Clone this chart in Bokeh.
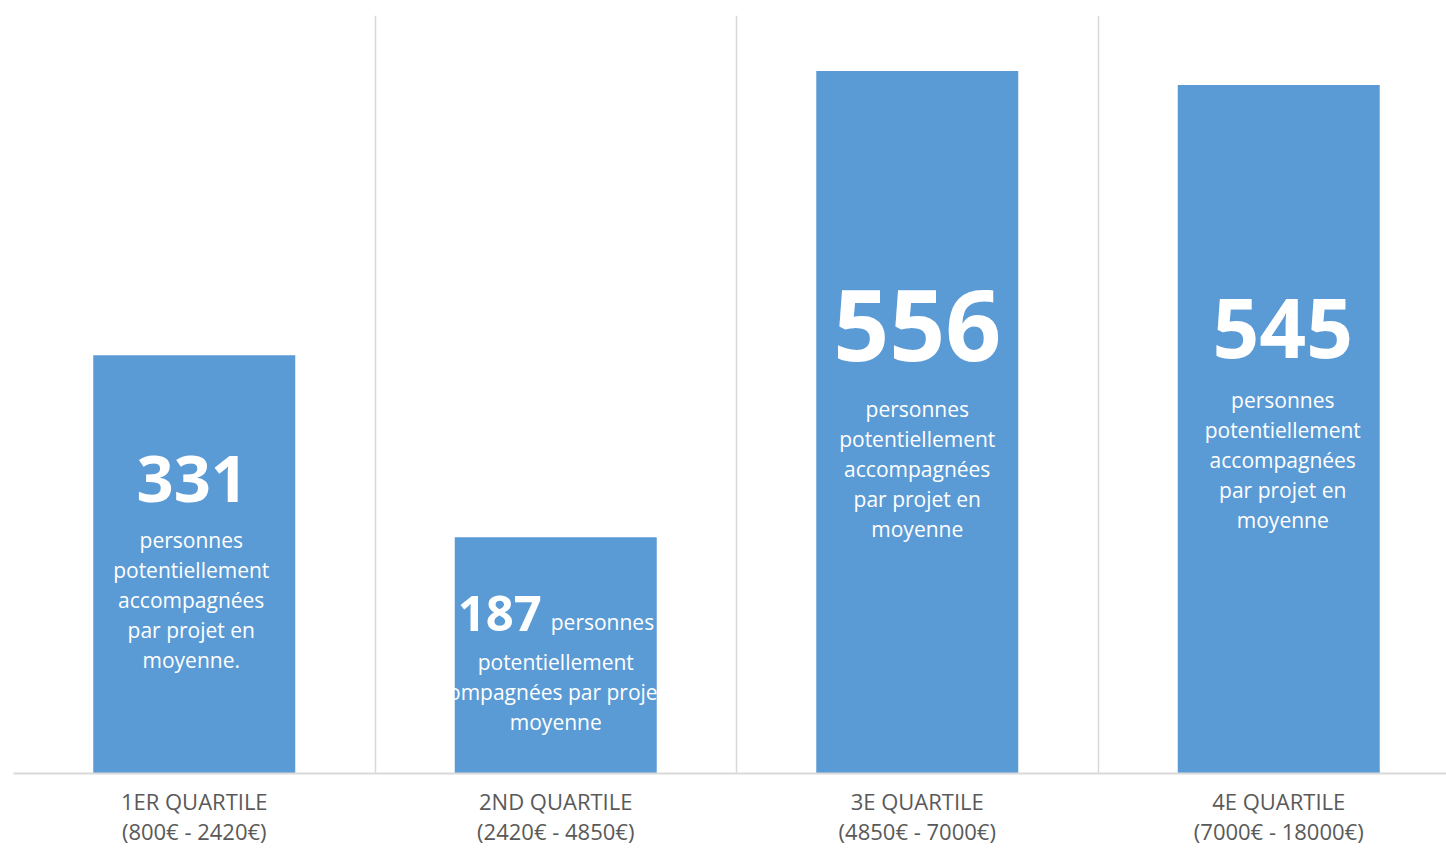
from bokeh.plotting import figure
from bokeh.models import Range1d, FixedTicker
from bokeh.core.properties import value
from bokeh.embed import file_html
from bokeh.resources import INLINE

# ---- data ----
categories_line1 = ["1ER QUARTILE", "2ND QUARTILE", "3E QUARTILE", "4E QUARTILE"]
categories_line2 = ["(800€ - 2420€)", "(2420€ - 4850€)", "(4850€ - 7000€)", "(7000€ - 18000€)"]
values = [331, 187, 556, 545]
number_labels = ["331", "187", "556", "545"]
desc_bar1 = ["personnes", "potentiellement", "accompagnées", "par projet en", "moyenne."]
desc_bar2_inline = "personnes"
desc_bar2 = ["potentiellement", "accompagnées par projet en", "moyenne"]
desc_bar3 = ["personnes", "potentiellement", "accompagnées", "par projet en", "moyenne"]
desc_bar4 = ["personnes", "potentiellement", "accompagnées", "par projet en", "moyenne"]

# ---- layout ----
W, H = 1446, 848
LEFT, TOP, BOTTOM = 13, 15, 75
frame_w = W - LEFT
frame_h = H - TOP - BOTTOM
cat_px = 361.5
Y_MAX = 600
scale = frame_h / Y_MAX  # px per unit

BAR_COLOR = "#5b9bd5"
GRID_COLOR = "#d9d9d9"
FONT = "Open Sans"

x_centers = [i + 0.5 for i in range(len(values))]

p = figure(width=W, height=H, output_backend="svg", toolbar_location=None,
           x_range=Range1d(0, frame_w / cat_px), y_range=Range1d(0, Y_MAX),
           min_border_left=LEFT, min_border_right=0, min_border_top=TOP,
           min_border_bottom=BOTTOM)
p.outline_line_color = None
p.background_fill_color = "white"
p.border_fill_color = "white"

p.vbar(x=x_centers, top=values, width=202 / cat_px, color=BAR_COLOR, line_color=None)

# grid: vertical category separators
p.xgrid.ticker = FixedTicker(ticks=[0, 1, 2, 3, 4])
p.xgrid.grid_line_color = GRID_COLOR
p.xgrid.grid_line_width = 1.5
p.ygrid.grid_line_color = None
p.yaxis.visible = False

# category axis
p.xaxis.ticker = FixedTicker(ticks=x_centers)
p.xaxis.major_label_overrides = {x: f"{a}\n{b}" for x, a, b in
                                 zip(x_centers, categories_line1, categories_line2)}
p.xaxis.axis_line_color = GRID_COLOR
p.xaxis.axis_line_width = 2
p.xaxis.major_tick_line_color = None
p.xaxis.minor_tick_line_color = None
p.xaxis.major_tick_out = 0
p.xaxis.major_tick_in = 0
p.xaxis.major_label_standoff = 12
p.xaxis.major_label_text_font = FONT
p.xaxis.major_label_text_font_size = "22px"
p.xaxis.major_label_text_line_height = 1.0
p.xaxis.major_label_text_color = "#595959"

def txt(x, y, t, size, bold=False, align="center", x_off=0):
    p.text(x=[x], y=[y], text=[t], text_align=align, text_baseline="middle",
           text_font=value(FONT), text_font_size=size,
           text_font_style="bold" if bold else "normal",
           text_color="white", x_offset=x_off)

# bar 1
v = values[0]
txt(x_centers[0], v / 2 + 85 / scale, number_labels[0], "65px", bold=True, x_off=-2)
for k, line in enumerate(desc_bar1):
    txt(x_centers[0], v / 2 + (24 - 30 * k) / scale, line, "21px", x_off=-3)

# bar 2
v = values[1]
txt(x_centers[1], v / 2 + 42 / scale, number_labels[1], "49px", bold=True,
    align="right", x_off=-14)
txt(x_centers[1], v / 2 + 33 / scale, desc_bar2_inline, "21px",
    align="left", x_off=-5)
for k, line in enumerate(desc_bar2):
    txt(x_centers[1], v / 2 + (-7 - 30 * k) / scale, line, "21px")

# bar 3
v = values[2]
txt(x_centers[2], v / 2 + 97 / scale, number_labels[2], "98px", bold=True)
for k, line in enumerate(desc_bar3):
    txt(x_centers[2], v / 2 + (13 - 30 * k) / scale, line, "21px")

# bar 4
v = values[3]
txt(x_centers[3], v / 2 + 101 / scale, number_labels[3], "82px", bold=True, x_off=4)
for k, line in enumerate(desc_bar4):
    txt(x_centers[3], v / 2 + (29 - 30 * k) / scale, line, "21px", x_off=4)

open("out.html", "w").write(file_html(p, INLINE))
